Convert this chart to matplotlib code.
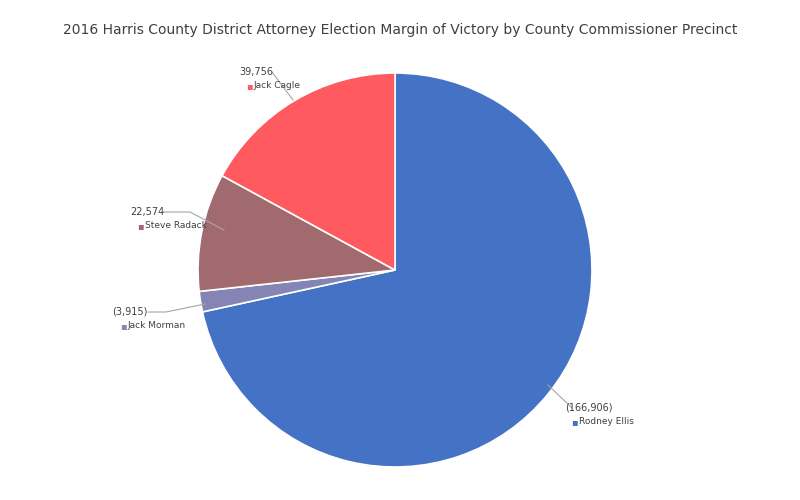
import matplotlib
matplotlib.use("Agg")
import matplotlib.pyplot as plt

names = ["Rodney Ellis", "Jack Morman", "Steve Radack", "Jack Cagle"]
values = [166906, 3915, 22574, 39756]
labels = ["(166,906)", "(3,915)", "22,574", "39,756"]
colors = ["#4472C4", "#8585B5", "#A16A6E", "#FF5A60"]

fig = plt.figure(figsize=(8, 5), dpi=100)
fig.patch.set_facecolor("white")
ax = fig.add_axes([(395 - 197) / 800, (230 - 197) / 500, 394 / 800, 394 / 500])
ax.pie(values, colors=colors, startangle=90, counterclock=False,
       wedgeprops=dict(edgecolor="white", linewidth=1.2))
ax.set_xlim(-1, 1); ax.set_ylim(-1, 1)
ax.set_aspect("equal")

def p(px, py):
    return ((px - 395) / 197, (270 - py) / 197)

# (text x,y px, ha, line path px)
specs = {
    "Jack Cagle": ((256, 72), "center", [(272, 72), (293, 100)]),
    "Steve Radack": ((147, 212), "center", [(163, 212), (190, 212), (224, 230)]),
    "Jack Morman": ((130, 312), "center", [(148, 312), (166, 312), (205, 304)]),
    "Rodney Ellis": ((589, 408), "center", [(572, 408), (548, 385)]),
}
for n, lab, c in zip(names, labels, colors):
    (tx, ty), ha, path = specs[n]
    xs, ys = zip(*[p(a, b) for a, b in path])
    ax.plot(xs, ys, color="#A6A6A6", lw=0.8, clip_on=False)
    x, y = p(tx, ty)
    ax.text(x, y, lab, ha=ha, va="center", fontsize=7, color="#404040")
    nx, ny = p(tx - 10 if n != "Rodney Ellis" else tx - 18, ty + 14)
    ax.text(nx, ny, "\u25aa", ha="left", va="center", fontsize=7, color=c)
    ax.text(nx + 0.04, ny, n, ha="left", va="center", fontsize=6.5, color="#404040")

fig.text(0.5, 1 - 30 / 500, "2016 Harris County District Attorney Election Margin of Victory by County Commissioner Precinct",
         ha="center", va="center", fontsize=10, color="#404040")
fig.savefig("out.png", dpi=100, facecolor="white")
